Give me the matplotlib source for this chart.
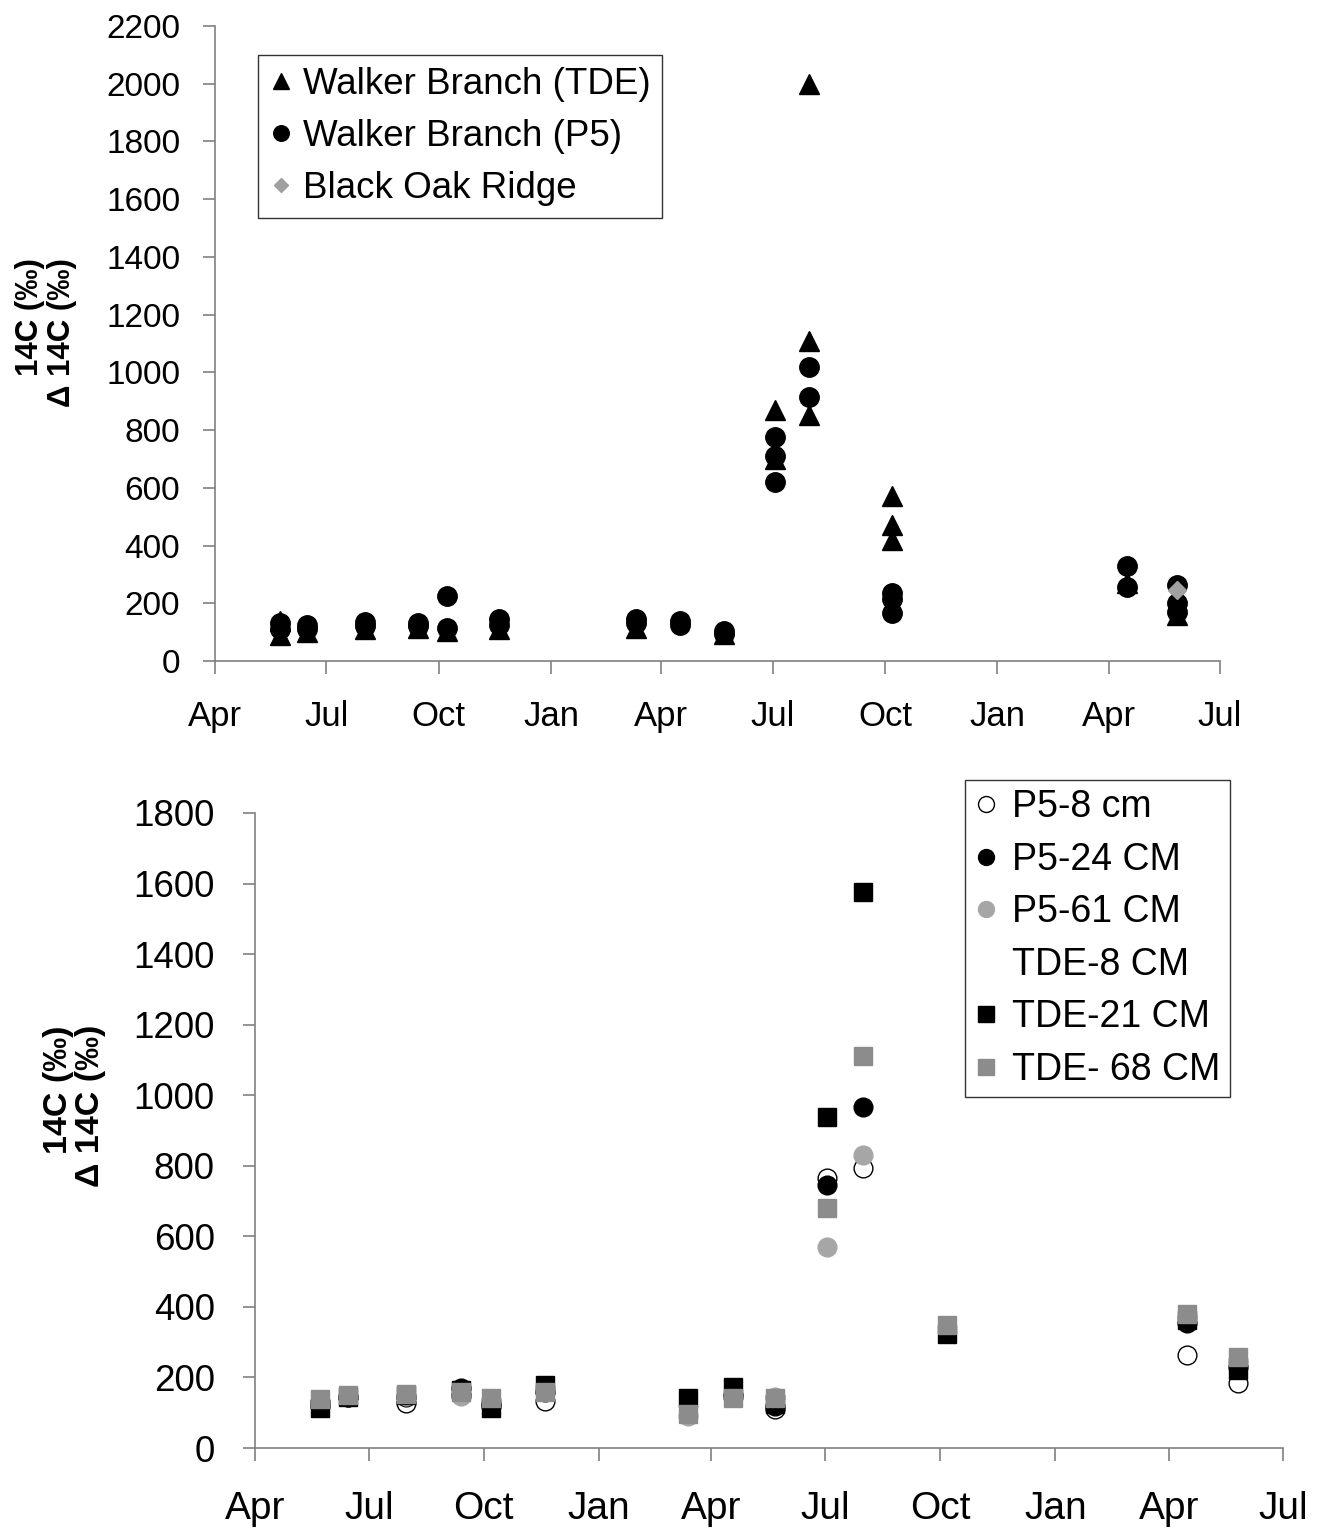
import matplotlib
matplotlib.use("Agg")
import matplotlib.pyplot as plt
import matplotlib.dates as mdates
import numpy as np
from datetime import datetime

plt.rcParams['font.family'] = ['Liberation Sans', 'DejaVu Sans']

# ---------------- top panel data ----------------
tde_dates = ["1998-05-24", "1998-05-24", "1998-06-15", "1998-08-02", "1998-09-14",
             "1998-10-08", "1998-11-19", "1999-03-11", "1999-05-22",
             "1999-07-03", "1999-07-03", "1999-07-31", "1999-07-31", "1999-07-31",
             "1999-10-07", "1999-10-07", "1999-10-07", "2000-04-16", "2000-05-27"]
tde_vals = [140, 90, 100, 110, 115,
            105, 110, 115, 95,
            870, 700, 2000, 1110, 852,
            573, 471, 419, 270, 160]

p5_dates = ["1998-05-24", "1998-05-24", "1998-06-15", "1998-06-15", "1998-08-02", "1998-08-02",
            "1998-09-14", "1998-09-14", "1998-10-08", "1998-10-08", "1998-11-19", "1998-11-19",
            "1999-03-11", "1999-03-11", "1999-04-16", "1999-04-16", "1999-05-22", "1999-05-22",
            "1999-07-03", "1999-07-03", "1999-07-03", "1999-07-31", "1999-07-31",
            "1999-10-07", "1999-10-07", "1999-10-07", "2000-04-16", "2000-04-16",
            "2000-05-27", "2000-05-27", "2000-05-27"]
p5_vals = [130, 110, 125, 110, 135, 120,
           130, 120, 225, 115, 145, 125,
           145, 130, 140, 125, 105, 95,
           777, 710, 620, 1020, 915,
           235, 215, 165, 329, 255,
           265, 200, 170]

bor_dates = ["2000-05-27"]
bor_vals = [245]

# ---------------- bottom panel data ----------------
b_dates = ["1998-05-23", "1998-06-14", "1998-07-31", "1998-09-13", "1998-10-07",
           "1998-11-19", "1999-03-13", "1999-04-18", "1999-05-22", "1999-07-02",
           "1999-07-31", "1999-10-06", "2000-04-15", "2000-05-26"]
p5_8 = [130, 145, 128, 150, 125, 133, np.nan, 145, 110, 764, 793, np.nan, 263, 184]
p5_24 = [120, 145, 145, 171, 120, 160, np.nan, 150, 120, 745, 967, np.nan, 353, 230]
p5_61 = [130, 148, 148, 148, 135, 171, 92, 145, 145, 571, 830, np.nan, 370, 250]
tde_8 = [np.nan] * 14
tde_21 = [114, 145, 150, 165, 112, 178, 143, 172, 124, 939, 1577, 322, 362, 221]
tde_68 = [138, 150, 152, 159, 143, 159, 95, 143, 143, 679, 1112, 349, 380, 259]

def to_dt(lst):
    return [datetime.strptime(s, "%Y-%m-%d") for s in lst]

W, H = 1323, 1530
fig = plt.figure(figsize=(W / 100, H / 100), dpi=100)

def px_axes(l, r, t, b):
    return fig.add_axes([l / W, 1 - b / H, (r - l) / W, (b - t) / H])

gray_axis = "#808080"

def style(ax, ylim, ystep, xfs, yfs, xpad, ypad):
    ax.set_xlim(datetime(1998, 4, 1), datetime(2000, 7, 1))
    ax.set_ylim(*ylim)
    ax.set_yticks(np.arange(ylim[0], ylim[1] + 1, ystep))
    ax.xaxis.set_major_locator(mdates.MonthLocator(bymonth=[1, 4, 7, 10]))
    ax.xaxis.set_major_formatter(mdates.DateFormatter("%b"))
    for s in ["top", "right"]:
        ax.spines[s].set_visible(False)
    for s in ["left", "bottom"]:
        ax.spines[s].set_color(gray_axis)
        ax.spines[s].set_linewidth(1.2)
    ax.tick_params(axis="both", direction="out", length=9, width=1.2, color=gray_axis)
    ax.tick_params(axis="x", labelsize=xfs, pad=xpad)
    ax.tick_params(axis="y", labelsize=yfs, pad=ypad)
    ax.set_facecolor("white")
    ax.patch.set_alpha(0)

# ---------------- top ----------------
ax1 = px_axes(215, 1220, 26, 661)
ax1.plot(to_dt(tde_dates), tde_vals, linestyle="none", marker="^", markersize=15,
         color="black", label="Walker Branch (TDE)")
ax1.plot(to_dt(p5_dates), p5_vals, linestyle="none", marker="o", markersize=14,
         color="black", label="Walker Branch (P5)")
ax1.plot(to_dt(bor_dates), bor_vals, linestyle="none", marker="D", markersize=9.5,
         color="#a0a0a0", label="Black Oak Ridge")
style(ax1, (0, 2200), 200, 25, 24, 19, 16)
leg1 = ax1.legend(loc="upper left", bbox_to_anchor=(258 / W, 1 - 55 / H),
                  bbox_transform=fig.transFigure, fontsize=26.5, frameon=True,
                  fancybox=False, edgecolor="black", handlelength=0.6,
                  handletextpad=0.3, labelspacing=0.47, borderpad=0.32,
                  borderaxespad=0, markerscale=0.8)
leg1.get_frame().set_linewidth(1.0)

# ---------------- bottom ----------------
ax2 = px_axes(255, 1283, 813, 1448)
bd = to_dt(b_dates)
ax2.plot(bd, p5_8, linestyle="none", marker="o", markersize=13.5, markerfacecolor="white",
         markeredgecolor="black", markeredgewidth=1.0, label="P5-8 cm")
ax2.plot(bd, p5_24, linestyle="none", marker="o", markersize=13.5, color="black",
         label="P5-24 CM")
ax2.plot(bd, p5_61, linestyle="none", marker="o", markersize=13.5, color="#a6a6a6",
         label="P5-61 CM")
ax2.plot(bd, tde_8, linestyle="none", marker="s", markersize=13, color="white",
         label="TDE-8 CM")
ax2.plot(bd, tde_21, linestyle="none", marker="s", markersize=13, color="black",
         label="TDE-21 CM")
ax2.plot(bd, tde_68, linestyle="none", marker="s", markersize=13, color="#8c8c8c",
         label="TDE- 68 CM")
style(ax2, (0, 1800), 200, 28, 26.5, 22, 20)
leg2 = ax2.legend(loc="upper left", bbox_to_anchor=(965 / W, 1 - 780 / H),
                  bbox_transform=fig.transFigure, fontsize=27, frameon=True,
                  fancybox=False, edgecolor="black", handlelength=0.6,
                  handletextpad=0.4, labelspacing=0.44, borderpad=0.25,
                  borderaxespad=0, markerscale=0.85)
leg2.get_frame().set_linewidth(1.0)

# ---------------- y labels (two overlapping lines as in the original) ----------------
fig.text(30 / W, 1 - 258 / H, "14C (‰)", rotation=90, ha="center", va="top",
         fontsize=22.5, fontweight="bold")
fig.text(62 / W, 1 - 258 / H, "Δ 14C (‰)", rotation=90, ha="center", va="top",
         fontsize=22.5, fontweight="bold")
fig.text(58 / W, 1 - 1025 / H, "14C (‰)", rotation=90, ha="center", va="top",
         fontsize=24.5, fontweight="bold")
fig.text(90 / W, 1 - 1025 / H, "Δ 14C (‰)", rotation=90, ha="center", va="top",
         fontsize=24.5, fontweight="bold")

fig.savefig("out.png", dpi=100, facecolor="white")
